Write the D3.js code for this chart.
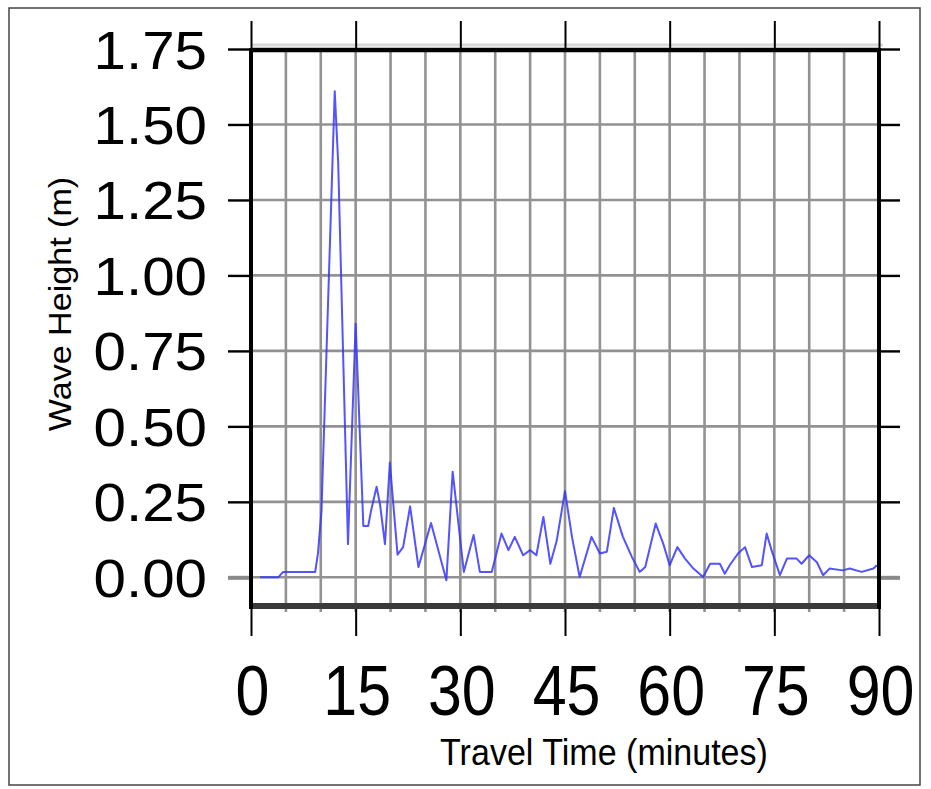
<!DOCTYPE html>
<html><head><meta charset="utf-8">
<script src="https://cdn.jsdelivr.net/npm/d3@7"></script>
<style>body{margin:0;background:#fff} svg{display:block}</style>
</head><body><svg id="c" width="931" height="789"></svg>
<script>
// ---- data ----
const timeMin = [1.3, 3.9, 4.6, 9.2, 9.6, 10.1, 12.0, 12.5, 13.9, 15.0, 16.1, 16.8, 17.2, 18.0, 18.5, 19.2, 19.9,
  21.0, 21.8, 22.8, 24.0, 25.8, 28.0, 28.9, 30.5, 31.9, 32.8, 34.5, 35.9, 36.9, 37.8, 39.0, 40.0, 40.9, 41.9,
  42.9, 43.8, 45.0, 46.0, 47.1, 48.8, 50.0, 51.0, 52.0, 53.3, 54.6, 55.7, 56.5, 58.0, 59.1, 60.0, 61.1, 62.2,
  63.4, 64.8, 65.8, 67.2, 67.9, 68.6, 69.8, 70.8, 71.8, 73.2, 73.9, 74.6, 75.8, 76.8, 78.2, 78.9, 80.0, 81.1,
  82.0, 82.9, 84.8, 85.8, 87.5, 89.2, 89.7];
const waveHeight = [0.0, 0.0, 0.018, 0.018, 0.08, 0.22, 1.61, 1.37, 0.11, 0.84, 0.17, 0.17, 0.22, 0.30, 0.24, 0.11, 0.38,
  0.075, 0.10, 0.235, 0.034, 0.18, -0.01, 0.35, 0.018, 0.14, 0.018, 0.018, 0.145, 0.09, 0.134, 0.073, 0.09, 0.073, 0.20,
  0.045, 0.12, 0.285, 0.134, 0.001, 0.134, 0.079, 0.085, 0.23, 0.134, 0.067, 0.018, 0.034, 0.178, 0.11, 0.04, 0.10, 0.062,
  0.029, 0.001, 0.045, 0.045, 0.012, 0.04, 0.079, 0.10, 0.034, 0.04, 0.145, 0.09, 0.007, 0.062, 0.062, 0.045, 0.073, 0.05,
  0.007, 0.029, 0.023, 0.029, 0.018, 0.029, 0.04];
const yTickValues = [0, 0.25, 0.5, 0.75, 1.0, 1.25, 1.5, 1.75];
const xTickValues = [0, 15, 30, 45, 60, 75, 90];
const xGridValues = [5, 10, 15, 20, 25, 30, 35, 40, 45, 50, 55, 60, 65, 70, 75, 80, 85];
const yGridValues = [0, 0.25, 0.5, 0.75, 1.0, 1.25, 1.5];
const xTitle = "Travel Time (minutes)";
const yTitle = "Wave Height (m)";

// ---- layout ----
const L = 251, R = 879, T = 49, B = 606;
const svg = d3.select("#c");
const x = d3.scaleLinear().domain([0, 90]).range([L, R]);
const y = d3.scaleLinear().domain([-0.095, 1.75]).range([B, T]);
const FONT = "'Liberation Sans', Arial, Helvetica, sans-serif";

// outer border
svg.append("rect").attr("x", 9).attr("y", 8).attr("width", 911).attr("height", 777)
  .attr("fill", "none").attr("stroke", "#444").attr("stroke-width", 1.5);

// grid
const grid = svg.append("g").attr("stroke", "#929292").attr("stroke-width", 2.6);
grid.selectAll("line.v").data(xGridValues).join("line").attr("class", "v")
  .attr("x1", d => x(d)).attr("x2", d => x(d)).attr("y1", T).attr("y2", B + 6);
grid.selectAll("line.h").data(yGridValues).join("line").attr("class", "h")
  .attr("x1", L).attr("x2", R).attr("y1", d => y(d)).attr("y2", d => y(d));

// light gray band above top frame
svg.append("line").attr("x1", L).attr("x2", R + 4).attr("y1", y(1.75) - 4).attr("y2", y(1.75) - 4)
  .attr("stroke", "#d8d8d8").attr("stroke-width", 3);

// data line
const pts = timeMin.map((t, i) => [t, waveHeight[i]]);
svg.append("path").datum(pts)
  .attr("d", d3.line().x(d => x(d[0])).y(d => y(d[1])))
  .attr("fill", "none").attr("stroke", "#3535ff").attr("stroke-width", 2)
  .attr("stroke-opacity", 0.85).attr("stroke-linejoin", "round");

// axes
function styleAxis(g, w) {
  g.select(".domain").remove();
  g.selectAll(".tick line").attr("stroke", "#000").attr("stroke-width", w);
}
const leftAx = svg.append("g").attr("transform", `translate(${L},0)`)
  .call(d3.axisLeft(y).tickValues(yTickValues).tickSize(23).tickFormat(d3.format(".2f")));
styleAxis(leftAx, 2.4);
leftAx.selectAll(".tick text")
  .attr("x", 0).attr("dy", null).attr("dominant-baseline", null)
  .attr("transform", "translate(-44,19) scale(1.08,1)")
  .attr("text-anchor", "end").attr("fill", "#000")
  .style("font-family", FONT).style("font-size", "54px");

const rightAx = svg.append("g").attr("transform", `translate(${R},0)`)
  .call(d3.axisRight(y).tickValues(yTickValues).tickSize(21).tickFormat(""));
styleAxis(rightAx, 2.4);

[leftAx, rightAx].forEach(g => g.selectAll(".tick").filter(d => d === 0)
  .select("line").attr("stroke", "#8a8a8a").attr("stroke-width", 4));

const bottomAx = svg.append("g").attr("transform", `translate(0,${B})`)
  .call(d3.axisBottom(x).tickValues(xTickValues).tickSize(30));
styleAxis(bottomAx, 2);
bottomAx.selectAll(".tick text")
  .attr("y", 0).attr("dy", null)
  .attr("transform", "translate(1,109) scale(0.87,1)")
  .attr("text-anchor", "middle").attr("fill", "#000")
  .style("font-family", FONT).style("font-size", "70px");

const topAx = svg.append("g").attr("transform", `translate(0,${T})`)
  .call(d3.axisTop(x).tickValues(xTickValues).tickSize(28).tickFormat(""));
styleAxis(topAx, 2);

// frame
const frame = svg.append("g");
frame.append("line").attr("x1", L).attr("x2", R).attr("y1", y(1.75) + 1).attr("y2", y(1.75) + 1)
  .attr("stroke", "#000").attr("stroke-width", 4.5);
frame.append("line").attr("x1", L).attr("x2", R).attr("y1", B).attr("y2", B)
  .attr("stroke", "#3a3a3a").attr("stroke-width", 6);
frame.append("line").attr("x1", L).attr("x2", L).attr("y1", T - 1).attr("y2", B + 3)
  .attr("stroke", "#000").attr("stroke-width", 4);
frame.append("line").attr("x1", R).attr("x2", R).attr("y1", T - 1).attr("y2", B + 3)
  .attr("stroke", "#000").attr("stroke-width", 4);

// titles
svg.append("text").attr("transform", "translate(604,765) scale(0.92,1)")
  .attr("text-anchor", "middle").style("font-family", FONT).style("font-size", "37px")
  .attr("fill", "#000").text(xTitle);
svg.append("text").attr("transform", "translate(71,304) rotate(-90) scale(1.1,1)")
  .attr("text-anchor", "middle").style("font-family", FONT).style("font-size", "31px")
  .attr("fill", "#000").text(yTitle);
</script></body></html>
